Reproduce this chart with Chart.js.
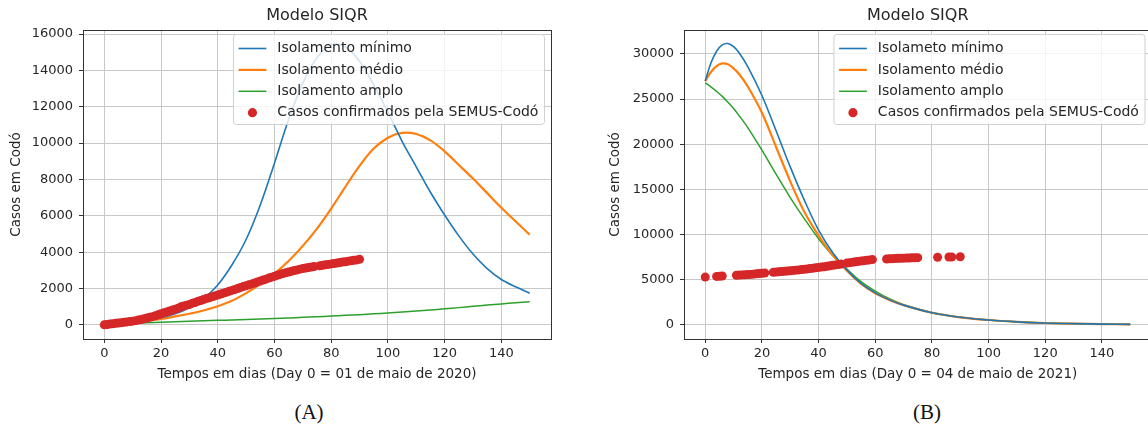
<!DOCTYPE html>
<html>
<head>
<meta charset="utf-8">
<script src="https://cdn.jsdelivr.net/npm/chart.js@4.4.1/dist/chart.umd.min.js"></script>
<style>
  html, body { margin: 0; padding: 0; background: #fff; overflow: hidden; }
  body { width: 1148px; height: 432px; position: relative; }
  canvas { position: absolute; top: 0; }
  #graficoA { left: 0; }
  #graficoB { left: 574px; }
  .rotulo { position: absolute; top: 400px; font: 21px "Liberation Serif", serif; color: #111; transform: translateX(-50%); }
</style>
</head>
<body>
<canvas id="graficoA" width="574" height="392"></canvas>
<canvas id="graficoB" width="590" height="392"></canvas>
<div class="rotulo" style="left:309px">(A)</div>
<div class="rotulo" style="left:927px">(B)</div>
<script>
// ---- dados (A): 01 de maio de 2020 ----
const diasModeloA = [0, 5, 10, 15, 20, 25, 30, 35, 40, 45, 50, 55, 60, 65, 70, 75, 80, 85, 90, 95, 100, 105, 110, 115, 120, 125, 130, 135, 140, 145, 150];
const minimoA = [30, 70, 140, 250, 400, 620, 950, 1450, 2200, 3300, 4700, 6600, 8900, 11300, 13300, 14700, 15400, 15300, 14500, 13200, 11700, 10100, 8700, 7300, 6050, 4900, 3900, 3100, 2500, 2100, 1750];
const medioA = [30, 80, 150, 230, 330, 470, 620, 800, 1030, 1330, 1750, 2250, 2830, 3520, 4350, 5300, 6400, 7600, 8750, 9700, 10300, 10560, 10500, 10150, 9550, 8800, 8050, 7250, 6450, 5700, 4960];
const amploA = [30, 60, 95, 125, 155, 180, 205, 230, 255, 280, 305, 330, 360, 390, 420, 455, 490, 530, 570, 615, 660, 710, 765, 825, 890, 955, 1025, 1095, 1160, 1220, 1280];
const diasCasosA = [0, 1, 2, 3, 4, 5, 6, 7, 8, 9, 10, 11, 12, 13, 14, 15, 16, 17, 18, 19, 20, 21, 22, 23, 24, 25, 26, 27, 28, 29,
  30, 31, 32, 33, 34, 35, 36, 37, 38, 39, 40, 41, 42, 43, 44, 45, 46, 47, 48, 49, 50, 51, 52, 53, 54, 55, 56, 57, 58, 59,
  60, 61, 62, 63, 64, 65, 66, 67, 68, 69, 70, 71, 72, 73, 74, 76, 77, 78, 79, 80, 81, 82, 83, 84, 85, 86, 87, 88, 89, 90];
const casosA = [10, 30, 50, 70, 90, 110, 130, 150, 170, 190, 210, 240, 270, 300, 340, 380, 420, 460, 510, 560, 620, 670, 720, 770, 820, 870, 920, 1000, 1050, 1090,
  1130, 1190, 1240, 1300, 1350, 1400, 1450, 1500, 1550, 1600, 1650, 1700, 1750, 1800, 1850, 1900, 1950, 2000, 2060, 2110, 2160, 2210, 2260, 2310, 2370, 2420, 2470, 2520, 2580, 2630,
  2680, 2730, 2780, 2830, 2870, 2910, 2950, 2990, 3030, 3070, 3100, 3130, 3160, 3190, 3210, 3260, 3280, 3310, 3330, 3360, 3380, 3410, 3430, 3460, 3480, 3510, 3530, 3560, 3580, 3610];

// ---- dados (B): 04 de maio de 2021 ----
const diasModeloB = [0, 2, 4, 6, 8, 10, 12, 15, 20, 25, 30, 35, 40, 45, 50, 55, 60, 65, 70, 80, 90, 100, 110, 120, 130, 140, 150];
const minimoB = [27000, 29000, 30300, 31000, 31150, 30800, 30100, 28600, 25400, 21500, 17500, 13800, 10500, 8000, 6100, 4600, 3550, 2780, 2200, 1360, 850, 550, 350, 220, 150, 100, 70];
const medioB = [27000, 28000, 28650, 28950, 28850, 28400, 27750, 26400, 23500, 19700, 15900, 12500, 9900, 7700, 6000, 4550, 3520, 2780, 2200, 1360, 850, 550, 350, 220, 150, 100, 70];
const amploB = [26800, 26350, 25850, 25300, 24650, 23950, 23150, 21850, 19350, 16700, 14100, 11750, 9550, 7700, 6200, 4800, 3750, 2900, 2250, 1380, 870, 560, 355, 225, 150, 100, 70];
const diasCasosB = [0, 4, 5, 6, 11, 12, 13, 14, 15, 16, 17, 18, 19, 20, 21, 24, 25, 26, 27, 28, 29, 30, 31, 32, 33, 34, 35, 36, 37, 38, 39, 40, 41, 42, 43, 44, 45, 46, 47, 48,
  50, 51, 52, 53, 54, 55, 56, 57, 58, 59, 64, 65, 66, 67, 68, 69, 70, 71, 72, 73, 74, 75, 82, 86, 87, 90];
const casosB = [5300, 5380, 5400, 5420, 5500, 5520, 5540, 5560, 5580, 5600, 5630, 5660, 5690, 5720, 5750, 5830, 5860, 5890, 5920, 5950, 5980, 6010, 6040, 6070, 6100, 6140, 6170, 6210, 6250, 6290, 6330, 6370, 6410, 6450, 6500, 6550, 6600, 6650, 6700, 6750,
  6850, 6900, 6950, 7000, 7040, 7080, 7120, 7160, 7200, 7240, 7300, 7320, 7340, 7360, 7380, 7390, 7400, 7410, 7420, 7430, 7440, 7450, 7500, 7520, 7530, 7550];

// ---- eixos e textos ----
const ticksX = [0, 20, 40, 60, 80, 100, 120, 140];
const ticksYA = [0, 2000, 4000, 6000, 8000, 10000, 12000, 14000, 16000];
const ticksYB = [0, 5000, 10000, 15000, 20000, 25000, 30000];
const legendaA = ['Isolamento mínimo', 'Isolamento médio', 'Isolamento amplo', 'Casos confirmados pela SEMUS-Codó'];
const legendaB = ['Isolameto mínimo', 'Isolamento médio', 'Isolamento amplo', 'Casos confirmados pela SEMUS-Codó'];

const FONTE = '"DejaVu Sans", sans-serif';
const TEXTO = '#262626';

function pares(xs, ys) {
  return xs.map((x, i) => ({ x: x, y: ys[i] }));
}

function linha(label, data, cor, largura) {
  return {
    label: label, data: data, borderColor: cor, backgroundColor: cor, borderWidth: largura,
    pointRadius: 0, fill: false, tension: 0.35, order: 1
  };
}

// moldura (estilo matplotlib) + legenda dentro do gráfico
const molduraLegenda = {
  id: 'molduraLegenda',
  afterDatasetsDraw(chart) {
    const { ctx, chartArea: a } = chart;
    ctx.save();
    ctx.strokeStyle = '#333';
    ctx.lineWidth = 1;
    ctx.strokeRect(Math.round(a.left) + 0.5, Math.round(a.top) + 0.5, Math.round(a.right - a.left), Math.round(a.bottom - a.top));

    const ds = chart.data.datasets;
    ctx.font = '14px ' + FONTE;
    const textoW = Math.max(...ds.map(d => ctx.measureText(d.label).width));
    const w = 44.4 + textoW + 5.6;
    const h = 90;
    const x = a.right - 7 - w;
    const y = a.top + 4;
    ctx.fillStyle = 'rgba(255,255,255,0.8)';
    ctx.strokeStyle = '#d0d0d0';
    ctx.beginPath();
    if (ctx.roundRect) ctx.roundRect(x + 0.5, y + 0.5, w, h, 3); else ctx.rect(x + 0.5, y + 0.5, w, h);
    ctx.fill();
    ctx.stroke();

    ds.forEach((d, i) => {
      const cy = y + 14.5 + i * 21.4;
      if (d.showLine === false) {
        ctx.fillStyle = d.pointBackgroundColor;
        ctx.beginPath();
        ctx.arc(x + 19.5, cy, 4.6, 0, Math.PI * 2);
        ctx.fill();
      } else {
        ctx.strokeStyle = d.borderColor;
        ctx.lineWidth = d.borderWidth;
        ctx.beginPath();
        ctx.moveTo(x + 5.6, cy);
        ctx.lineTo(x + 33.4, cy);
        ctx.stroke();
      }
      ctx.fillStyle = TEXTO;
      ctx.textBaseline = 'middle';
      ctx.textAlign = 'left';
      ctx.fillText(d.label, x + 44.4, cy);
    });
    ctx.restore();
  }
};

function criarGrafico(id, cfg) {
  const grade = { color: '#c8c8c8', lineWidth: 1, tickColor: '#333', tickLength: 4, tickWidth: 1 };
  return new Chart(document.getElementById(id), {
    type: 'line',
    data: {
      datasets: [
        linha(cfg.legenda[0], pares(cfg.dias, cfg.minimo), '#1f77b4', 1.6),
        linha(cfg.legenda[1], pares(cfg.dias, cfg.medio), '#ff7f0e', 2.2),
        linha(cfg.legenda[2], pares(cfg.dias, cfg.amplo), '#2ca02c', 1.5),
        {
          label: cfg.legenda[3], data: pares(cfg.diasCasos, cfg.casos), showLine: false,
          pointRadius: 4.5, pointBackgroundColor: '#d62728', pointBorderColor: '#d62728', pointBorderWidth: 0, order: 0
        }
      ]
    },
    options: {
      responsive: false,
      animation: false,
      layout: { padding: { left: 0, right: cfg.padDir, top: 0, bottom: 0 } },
      plugins: {
        legend: { display: false },
        tooltip: { enabled: false },
        title: {
          display: true, text: 'Modelo SIQR', fullSize: false, color: TEXTO,
          font: { family: FONTE, size: 16, weight: 'normal' }, padding: { top: 6, bottom: 4.8 }
        }
      },
      scales: {
        x: {
          type: 'linear', min: -7.5, max: 157.5,
          afterBuildTicks: s => { s.ticks = ticksX.map(v => ({ value: v })); },
          afterFit: s => { s.height = 53; },
          grid: grade, border: { display: false },
          ticks: { color: TEXTO, font: { family: FONTE, size: 13 }, padding: 3, maxRotation: 0, callback: v => String(v) },
          title: { display: true, text: cfg.tituloX, color: TEXTO, font: { family: FONTE, size: 13.5 }, padding: { top: 0, bottom: 9.9 } }
        },
        y: {
          type: 'linear', min: cfg.yMin, max: cfg.yMax,
          afterBuildTicks: s => { s.ticks = cfg.ticksY.map(v => ({ value: v })); },
          afterFit: s => { s.width = cfg.largY; },
          grid: grade, border: { display: false },
          ticks: { color: TEXTO, font: { family: FONTE, size: 13 }, padding: 6, callback: v => String(v) },
          title: { display: true, text: 'Casos em Codó', color: TEXTO, font: { family: FONTE, size: 13.5 }, padding: { top: cfg.padTituloY, bottom: 0 } }
        }
      }
    },
    plugins: [molduraLegenda]
  });
}

criarGrafico('graficoA', {
  legenda: legendaA, dias: diasModeloA, minimo: minimoA, medio: medioA, amplo: amploA,
  diasCasos: diasCasosA, casos: casosA, ticksY: ticksYA, yMin: -770, yMax: 16220,
  tituloX: 'Tempos em dias (Day 0 = 01 de maio de 2020)', largY: 83, padTituloY: 7.9, padDir: 23
});

criarGrafico('graficoB', {
  legenda: legendaB, dias: diasModeloB, minimo: minimoB, medio: medioB, amplo: amploB,
  diasCasos: diasCasosB, casos: casosB, ticksY: ticksYB, yMin: -1550, yMax: 32650,
  tituloX: 'Tempos em dias (Day 0 = 04 de maio de 2021)', largY: 110, padTituloY: 33, padDir: 12.5
});
</script>
</body>
</html>
